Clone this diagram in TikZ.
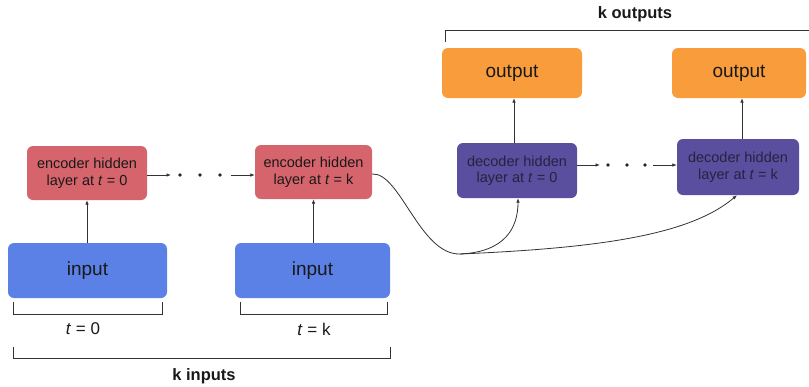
\documentclass[tikz,border=0pt]{standalone}
\usepackage{fontspec}
\setmainfont{Liberation Sans}
\usetikzlibrary{arrows.meta}
\definecolor{encred}{HTML}{D6646C}
\definecolor{inblue}{HTML}{5B80E6}
\definecolor{decpurple}{HTML}{5A4E9E}
\definecolor{outorange}{HTML}{F99C3C}
\definecolor{linegray}{HTML}{333333}
\definecolor{dectext}{HTML}{26233F}
\tikzset{
  box/.style={rounded corners=6pt, inner sep=0pt, align=center, text=black!90},
  encbox/.style={box, fill=encred, font=\fontsize{14.5}{16.5}\selectfont},
  decbox/.style={box, fill=decpurple, text=dectext, font=\fontsize{14.5}{16.5}\selectfont},
  inbox/.style={box, fill=inblue, font=\fontsize{19}{20}\selectfont},
  outbox/.style={box, fill=outorange, font=\fontsize{19}{20}\selectfont},
  conn/.style={draw=linegray, line width=0.8pt, -{Latex[length=4.5pt,width=3.6pt]}},
  dotnode/.style={circle, fill=black!85, inner sep=0pt, minimum size=3.6pt},
  bracket/.style={draw=linegray, line width=0.7pt},
  lbl/.style={font=\fontsize{17}{19}\selectfont, text=black!90},
  blbl/.style={font=\bfseries\fontsize{16.5}{18}\selectfont, text=black!90}
}
\begin{document}
\begin{tikzpicture}[x=1pt, y=-1pt]
\useasboundingbox (0,0) rectangle (809,386);

% encoder side
\node[encbox, minimum width=120pt, minimum height=54pt] (enc0) at (87,173) {encoder hidden\\layer at \textit{t} = 0};
\node[encbox, minimum width=117pt, minimum height=54pt] (enck) at (313.5,172) {encoder hidden\\layer at \textit{t} = k};
\node[inbox, minimum width=159pt, minimum height=55pt] (in0) at (87.5,270.5) {input};
\node[inbox, minimum width=155pt, minimum height=55pt] (ink) at (312.5,270.5) {input};

% decoder side
\node[outbox, minimum width=140pt, minimum height=50pt] (out0) at (512,73) {output};
\node[outbox, minimum width=134pt, minimum height=50pt] (outk) at (739,73) {output};
\node[decbox, minimum width=120pt, minimum height=55pt] (dec0) at (517,170.5) {decoder hidden\\layer at \textit{t} = 0};
\node[decbox, minimum width=122pt, minimum height=56pt] (deck) at (738,167) {decoder hidden\\layer at \textit{t} = k};

% recurrence dots
\node[dotnode] (ea) at (180,175) {};
\node[dotnode] (eb) at (200,175) {};
\node[dotnode] (ec) at (220,175) {};
\node[dotnode] (da) at (608,165) {};
\node[dotnode] (db) at (627,165) {};
\node[dotnode] (dc) at (645,165) {};

% vertical connectors
\draw[conn] (in0.north -| enc0) -- (enc0.south);
\draw[conn] (ink.north -| enck) -- (enck.south);
\coordinate (v0) at (514,0);
\coordinate (vk) at (742,0);
\draw[conn] (dec0.north -| v0) -- (out0.south -| v0);
\draw[conn] (deck.north -| vk) -- (outk.south -| vk);

% horizontal connectors through the dots
\draw[conn, shorten >=7pt] (enc0.east |- ea) -- (ea);
\draw[conn, shorten <=9pt] (ec) -- (enck.west |- ec);
\draw[conn, shorten >=6pt] (dec0.east |- da) -- (da);
\draw[conn, shorten <=6pt] (dc) -- (deck.west |- dc);

% context vector passed to the decoder
\coordinate (split) at (460,254);
\draw[linegray, line width=0.8pt] ([yshift=-2pt]enck.east) .. controls (400,172) and (420,255) .. (split);
\draw[conn] (split) .. controls (505,252) and (518,228) .. ([xshift=1pt]dec0.south);
\draw[conn] (split) .. controls (600,248) and (690,235) .. ([xshift=-1pt]deck.south);

% brackets under the inputs
\draw[bracket] (13,302) -- (13,314) -- (162,314) -- (162,302);
\draw[bracket] (240,302) -- (240,314) -- (387,314) -- (387,302);
\draw[bracket] (13,347) -- (13,358) -- (390,358) -- (390,347);
\node[lbl] (t0) at (83,329) {\textit{t} = 0};
\node[lbl] (tk) at (314,329) {\textit{t} = k};
\node[blbl] (kin) at (204,376) {k inputs};

% bracket over the outputs
\draw[bracket] (445,42) -- (445,30) -- (809,30);
\node[blbl] (kout) at (635,14) {k outputs};
\end{tikzpicture}
\end{document}
